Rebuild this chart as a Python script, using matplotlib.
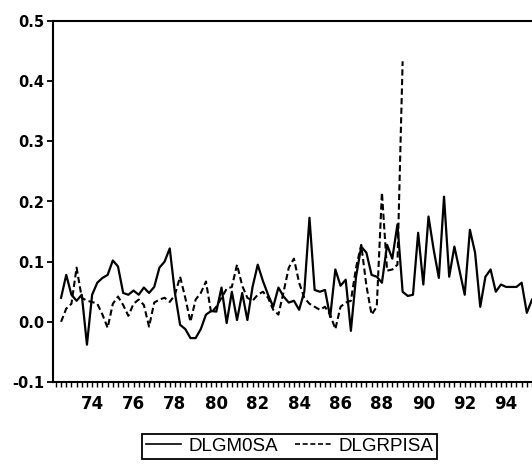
import numpy as np
import matplotlib
matplotlib.use('Agg')
import matplotlib.pyplot as plt
from matplotlib.ticker import MultipleLocator

# Quarterly series, first observation 1972Q3
start_year = 1972.5

# DLGM0SA (solid line), 1972Q3 - 1995Q2
dlgm0sa = [0.040, 0.078, 0.045, 0.035, 0.045, -0.038, 0.045, 0.065, 0.073, 0.078,
           0.102, 0.092, 0.048, 0.045, 0.052, 0.045, 0.057, 0.048, 0.058, 0.090,
           0.100, 0.122, 0.048, -0.005, -0.012, -0.027, -0.027, -0.012, 0.012, 0.018,
           0.017, 0.057, -0.002, 0.050, 0.003, 0.048, 0.003, 0.058, 0.095, 0.068,
           0.045, 0.025, 0.057, 0.042, 0.032, 0.035, 0.020, 0.050, 0.173, 0.053,
           0.050, 0.053, 0.008, 0.087, 0.060, 0.070, -0.015, 0.075, 0.125, 0.115,
           0.078, 0.075, 0.065, 0.128, 0.105, 0.162, 0.050, 0.043, 0.045, 0.148,
           0.062, 0.175, 0.120, 0.073, 0.208, 0.075, 0.125, 0.085, 0.045, 0.153,
           0.115, 0.025, 0.075, 0.087, 0.050, 0.062, 0.058, 0.058, 0.058, 0.065,
           0.015, 0.037]

# DLGRPISA (dashed line), 1972Q3 - 1989Q1
dlgrpisa = [0.000, 0.022, 0.030, 0.090, 0.040, 0.035, 0.033, 0.030, 0.012, -0.010,
            0.030, 0.042, 0.028, 0.010, 0.030, 0.037, 0.028, -0.008, 0.032, 0.037,
            0.040, 0.033, 0.045, 0.075, 0.040, 0.000, 0.037, 0.048, 0.067, 0.015,
            0.025, 0.040, 0.055, 0.058, 0.095, 0.060, 0.040, 0.035, 0.045, 0.050,
            0.040, 0.020, 0.012, 0.050, 0.090, 0.105, 0.065, 0.040, 0.030, 0.025,
            0.020, 0.025, 0.012, -0.012, 0.025, 0.032, 0.035, 0.090, 0.128, 0.060,
            0.012, 0.025, 0.215, 0.085, 0.087, 0.095, 0.433]

year_ticks = [1974, 1976, 1978, 1980, 1982, 1984, 1986, 1988, 1990, 1992, 1994]
year_labels = ['74', '76', '78', '80', '82', '84', '86', '88', '90', '92', '94']
y_ticks = [-0.1, 0.0, 0.1, 0.2, 0.3, 0.4, 0.5]

fig = plt.figure(figsize=(5.32, 4.65), dpi=100)
ax = fig.add_axes([53 / 532, 1 - 382 / 465, 479 / 532, 361 / 465])

t_m0 = start_year + np.arange(len(dlgm0sa)) / 4.0
t_rpi = start_year + np.arange(len(dlgrpisa)) / 4.0
ax.plot(t_m0, dlgm0sa, color='black', lw=1.6, label='DLGM0SA')
ax.plot(t_rpi, dlgrpisa, color='black', lw=1.5, ls=(0, (3, 1.6)), label='DLGRPISA')

ax.set_xlim(1972.11, 1995.25)
ax.set_ylim(-0.1, 0.5)

# axis frame like the EViews print: no right edge
ax.spines['right'].set_visible(False)
for side in ['left', 'top', 'bottom']:
    ax.spines[side].set_linewidth(1.5)
    ax.spines[side].set_color('black')

ax.set_yticks(y_ticks)
ax.set_yticklabels(['%.1f' % v for v in y_ticks], fontfamily='DejaVu Sans',
                   fontweight='bold', fontsize=10.5)
ax.set_xticks(year_ticks)
ax.set_xticklabels(year_labels, fontfamily='DejaVu Sans', fontweight='bold', fontsize=12)
ax.xaxis.set_minor_locator(MultipleLocator(0.25))
ax.tick_params(axis='y', direction='out', length=4, width=1.3, pad=2)
ax.tick_params(axis='x', which='both', direction='out', length=3.5, width=1.0, pad=6)

leg = fig.legend(loc='upper center', bbox_to_anchor=(0.544, 1 - 434 / 465), ncol=2,
                 frameon=True, fancybox=False, edgecolor='black', framealpha=1,
                 prop={'family': 'Liberation Sans', 'size': 13.5},
                 handlelength=1.9, handletextpad=0.4, columnspacing=0.9,
                 borderpad=0.2, borderaxespad=0)
leg.get_frame().set_linewidth(1.3)
for line in leg.get_lines():
    line.set_linewidth(1.2)

fig.savefig('out.png', dpi=100)
